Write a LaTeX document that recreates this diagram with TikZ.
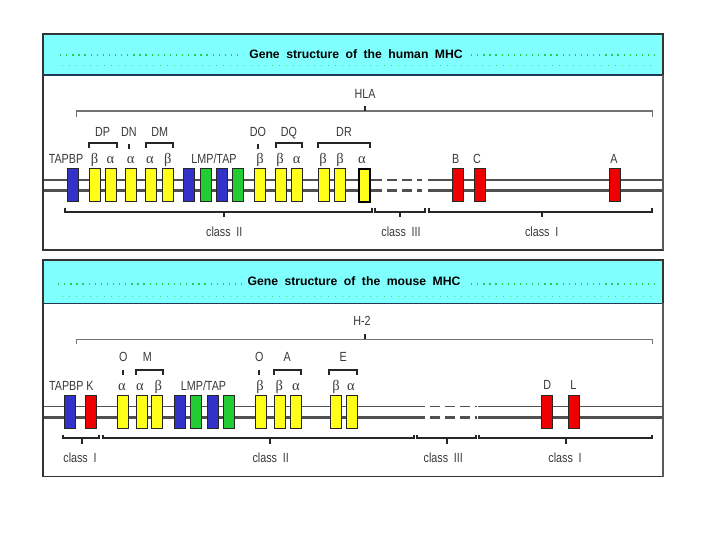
\documentclass[tikz,border=0pt]{standalone}
\usepackage{fontspec}
\usepackage{graphicx}
\setmainfont{Liberation Sans}
\newfontfamily\grk{Liberation Serif}
\definecolor{headcyan}{HTML}{80FFFF}
\definecolor{dotgreen}{HTML}{22CC55}
\definecolor{headline}{HTML}{1F3A55}
\definecolor{lblgray}{HTML}{3A3A3A}
\definecolor{gyel}{HTML}{FFFF1A}
\definecolor{gblue}{HTML}{3232C8}
\definecolor{ggreen}{HTML}{22CC33}
\definecolor{gred}{HTML}{EE0000}
\definecolor{trk}{HTML}{505050}
\newcommand\ws{\hspace{6.5pt}}
\newcommand\cs{\hspace{6pt}}
\newcommand\lt[1]{\scalebox{0.96}[1.18]{#1}}
\begin{document}
\begin{tikzpicture}[x=1pt,y=-1pt,
  gene/.style={draw=black!85, line width=1pt, minimum width=11pt, minimum height=33pt, inner sep=0pt},
  ygene/.style={gene, fill=gyel},
  bgene/.style={gene, fill=gblue},
  ggene/.style={gene, fill=ggreen},
  rgene/.style={gene, fill=gred},
  lbl/.style={text=lblgray, font=\fontsize{11.2}{12}\selectfont, inner sep=0pt, anchor=base},
  grklbl/.style={text=lblgray, font=\grk\fontsize{14.5}{15}\selectfont, inner sep=0pt, anchor=base},
  ttl/.style={font=\bfseries\fontsize{12.2}{13}\selectfont, inner sep=0pt, text=black, anchor=base},
  frame/.style={draw=black!80, line width=1.3pt},
  rightedge/.style={draw=black!65, line width=2.2pt},
  thinline/.style={draw=trk, line width=1.1pt},
  thickline/.style={draw=trk, line width=2.5pt},
  dashtrk/.style={dash pattern=on 10pt off 5pt},
  brk/.style={draw=black!85, line width=1.7pt},
  bigbrk/.style={draw=black!55, line width=1.5pt},
  dotrow/.style={draw=dotgreen, line width=1.3pt, dash pattern=on 1.3pt off 4.8pt},
  dotrowb/.style={draw=dotgreen!70!headcyan, line width=1pt, dash pattern=on 1pt off 6pt},
  headrule/.style={draw=headline, line width=1.5pt}]
\useasboundingbox (0,0) rectangle (720,540);
\fill[white] (0,0) rectangle (720,540);

% ================= HUMAN PANEL =================
\fill[headcyan] (43,34) rectangle (663,75);
\draw[dotrow] (60,55) -- (243,55);
\draw[dotrow] (471,55) -- (656,55);
\draw[dotrowb] (62,66) -- (656,66);
\draw[headrule] (43,75) -- (663,75);
\node[ttl] (t1) at (356,58.3) {Gene\ws structure\ws of\ws the\ws human\ws MHC};

% track
\draw[thinline] (43,180) -- (372,180);
\draw[thinline,dashtrk] (372,180) -- (422,180);
\draw[thinline] (428,180) -- (663,180);
\draw[thickline] (43,190.7) -- (372,190.7);
\draw[thickline,dashtrk] (372,190.7) -- (422,190.7);
\draw[thickline] (428,190.7) -- (663,190.7);

% genes
\node[bgene] (h1) at (72.8,185.5) {};
\node[ygene] (h2) at (94.7,185.5) {};
\node[ygene] (h3) at (110.5,185.5) {};
\node[ygene] (h4) at (131,185.5) {};
\node[ygene] (h5) at (151.3,185.5) {};
\node[ygene] (h6) at (167.8,185.5) {};
\node[bgene] (h7) at (188.7,185.5) {};
\node[ggene] (h8) at (205.5,185.5) {};
\node[bgene] (h9) at (222,185.5) {};
\node[ggene] (h10) at (238.3,185.5) {};
\node[ygene] (h11) at (260.2,185.5) {};
\node[ygene] (h12) at (281.2,185.5) {};
\node[ygene] (h13) at (297.2,185.5) {};
\node[ygene] (h14) at (323.8,185.5) {};
\node[ygene] (h15) at (340,185.5) {};
\node[ygene, line width=1.7pt, draw=black] (h16) at (364.2,185.5) {};
\node[rgene] (h17) at (457.8,185.5) {};
\node[rgene] (h18) at (480,185.5) {};
\node[rgene] (h19) at (614.5,185.5) {};

% gene labels
\node[lbl] (lh1) at (66,163.3) {\lt{TAPBP}};
\node[grklbl] (lh2) at (94.5,163.3) {β};
\node[grklbl] (lh3) at (110.5,163.3) {α};
\node[grklbl] (lh4) at (130.7,163.3) {α};
\node[grklbl] (lh5) at (150,163.3) {α};
\node[grklbl] (lh6) at (167.7,163.3) {β};
\node[lbl] (lh7) at (214,163.3) {\lt{LMP/TAP}};
\node[grklbl] (lh11) at (260,163.3) {β};
\node[grklbl] (lh12) at (280,163.3) {β};
\node[grklbl] (lh13) at (296.7,163.3) {α};
\node[grklbl] (lh14) at (323,163.3) {β};
\node[grklbl] (lh15) at (340,163.3) {β};
\node[grklbl] (lh16) at (362,163.3) {α};
\node[lbl] (lh17) at (455.7,163.3) {\lt{B}};
\node[lbl] (lh18) at (477,163.3) {\lt{C}};
\node[lbl] (lh19) at (614,163.3) {\lt{A}};

% group brackets
\draw[brk] (89.3,148.3) |- (116.7,143.3) -- (116.7,148.3);
\draw[brk] (129,144) -- (129,149);
\draw[brk] (146,148.3) |- (173.3,143.3) -- (173.3,148.3);
\draw[brk] (258,144) -- (258,149);
\draw[brk] (275.7,148.3) |- (302.3,143.3) -- (302.3,148.3);
\draw[brk] (318.3,148.3) |- (370,143.3) -- (370,148.3);
\node[lbl] (gDP) at (102.5,136.3) {\lt{DP}};
\node[lbl] (gDN) at (129,136.3) {\lt{DN}};
\node[lbl] (gDM) at (159.7,136.3) {\lt{DM}};
\node[lbl] (gDO) at (258,136.3) {\lt{DO}};
\node[lbl] (gDQ) at (289,136.3) {\lt{DQ}};
\node[lbl] (gDR) at (344,136.3) {\lt{DR}};

% HLA bracket
\draw[bigbrk] (76.7,117.3) |- (652.3,111) -- (652.3,117.3);
\draw[brk] (365,111) -- (365,106.5);
\node[lbl] (hla) at (365,98.3) {\lt{HLA}};

% class brackets
\draw[brk] (65,208) |- (372,212) -- (372,208);
\draw[brk] (224.3,212) -- (224.3,217);
\draw[brk] (375,208) |- (425,212) -- (425,208);
\draw[brk] (400,212) -- (400,217);
\draw[brk] (429,208) |- (652.3,212) -- (652.3,208);
\draw[brk] (541.7,212) -- (541.7,217);
\node[lbl] (hc2) at (224.3,236.7) {\lt{class\cs II}};
\node[lbl] (hc3) at (401,236.7) {\lt{class\cs III}};
\node[lbl] (hc1) at (541.7,236.7) {\lt{class\cs I}};

\draw[frame] (43,34) rectangle (663,250);
\draw[rightedge] (663,75) -- (663,250);

% ================= MOUSE PANEL =================
\fill[headcyan] (43,260) rectangle (663,303.3);
\draw[dotrow] (58,284) -- (243,284);
\draw[dotrow] (471,284) -- (656,284);
\draw[dotrowb] (62,296) -- (656,296);
\draw[headrule] (43,303.3) -- (663,303.3);
\node[ttl] (t2) at (354,285.7) {Gene\ws structure\ws of\ws the\ws mouse\ws MHC};

% track
\draw[thinline] (43,406.7) -- (415,406.7);
\draw[thinline,dashtrk] (415,406.7) -- (476.7,406.7);
\draw[thinline] (478,406.7) -- (663,406.7);
\draw[thickline] (43,417.3) -- (415,417.3);
\draw[thickline,dashtrk] (415,417.3) -- (476.7,417.3);
\draw[thickline] (478,417.3) -- (663,417.3);

% genes
\node[bgene] (m1) at (69.5,412.3) {};
\node[rgene] (m2) at (91.2,412.3) {};
\node[ygene] (m3) at (122.8,412.3) {};
\node[ygene] (m4) at (141.5,412.3) {};
\node[ygene] (m5) at (157.2,412.3) {};
\node[bgene] (m6) at (180.2,412.3) {};
\node[ggene] (m7) at (196.2,412.3) {};
\node[bgene] (m8) at (213.2,412.3) {};
\node[ggene] (m9) at (229.2,412.3) {};
\node[ygene] (m10) at (261.2,412.3) {};
\node[ygene] (m11) at (280.3,412.3) {};
\node[ygene] (m12) at (296.2,412.3) {};
\node[ygene] (m13) at (336.3,412.3) {};
\node[ygene] (m14) at (351.7,412.3) {};
\node[rgene] (m15) at (547.2,412.3) {};
\node[rgene] (m16) at (573.8,412.3) {};

% gene labels
\node[lbl] (lm1) at (66.3,390) {\lt{TAPBP}};
\node[lbl] (lm2) at (90,390) {\lt{K}};
\node[grklbl] (lm3) at (122,390) {α};
\node[grklbl] (lm4) at (140,390) {α};
\node[grklbl] (lm5) at (158.3,390) {β};
\node[lbl] (lm6) at (203.5,390) {\lt{LMP/TAP}};
\node[grklbl] (lm10) at (260,390) {β};
\node[grklbl] (lm11) at (279.3,390) {β};
\node[grklbl] (lm12) at (296,390) {α};
\node[grklbl] (lm13) at (336,390) {β};
\node[grklbl] (lm14) at (351,390) {α};
\node[lbl] (lm15) at (547.3,389) {\lt{D}};
\node[lbl] (lm16) at (573.3,389) {\lt{L}};

% group brackets
\draw[brk] (123.3,369.5) -- (123.3,374.5);
\draw[brk] (136.3,375) |- (162.7,370) -- (162.7,375);
\draw[brk] (259.3,369.5) -- (259.3,374.5);
\draw[brk] (274.3,375) |- (301,370) -- (301,375);
\draw[brk] (329.3,375) |- (356.7,370) -- (356.7,375);
\node[lbl] (gO1) at (123.3,361.7) {\lt{O}};
\node[lbl] (gM) at (147.3,361.7) {\lt{M}};
\node[lbl] (gO2) at (259.3,361.7) {\lt{O}};
\node[lbl] (gA) at (287.3,361.7) {\lt{A}};
\node[lbl] (gE) at (343.3,361.7) {\lt{E}};

% H-2 bracket
\draw[bigbrk] (76.7,344.3) |- (652.3,339.3) -- (652.3,344.3);
\draw[brk] (364.7,339.3) -- (364.7,333.5);
\node[lbl] (h2lbl) at (362,325.7) {\lt{H-2}};

% class brackets
\draw[brk] (62.7,434.7) |- (99.3,438.3) -- (99.3,434.7);
\draw[brk] (81.7,438.3) -- (81.7,443.5);
\draw[brk] (103.3,434.7) |- (414.3,438.3) -- (414.3,434.7);
\draw[brk] (270,438.3) -- (270,443.5);
\draw[brk] (417.3,434.7) |- (475.7,438.3) -- (475.7,434.7);
\draw[brk] (446.7,438.3) -- (446.7,443.5);
\draw[brk] (479,434.7) |- (652.3,438.3) -- (652.3,434.7);
\draw[brk] (565.7,438.3) -- (565.7,443.5);
\node[lbl] (mc1a) at (80,462.3) {\lt{class\cs I}};
\node[lbl] (mc2) at (270.7,462.3) {\lt{class\cs II}};
\node[lbl] (mc3) at (443.3,462.3) {\lt{class\cs III}};
\node[lbl] (mc1b) at (565,462.3) {\lt{class\cs I}};

\draw[frame] (43,260) rectangle (663,476.7);
\draw[rightedge] (663,303.3) -- (663,476.7);
\end{tikzpicture}
\end{document}
